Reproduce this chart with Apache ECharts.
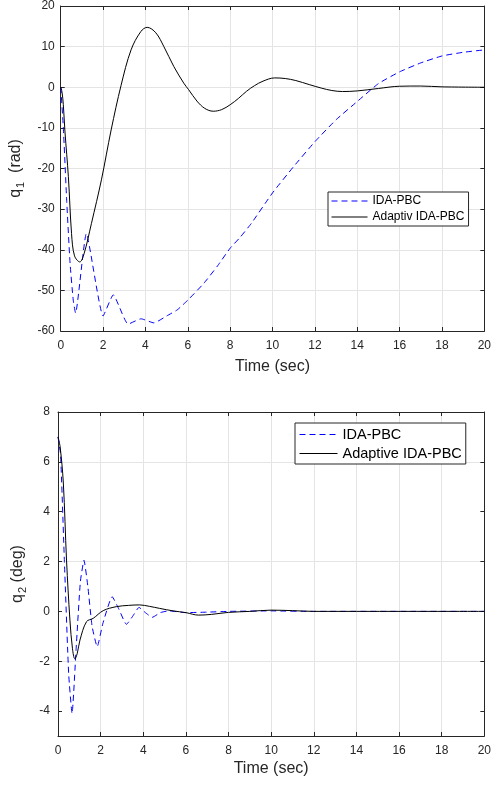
<!DOCTYPE html>
<html>
<head>
<meta charset="utf-8">
<script src="https://cdn.jsdelivr.net/npm/echarts@6/dist/echarts.min.js"></script>
<style>
  html, body { margin: 0; padding: 0; background: #fff; }
  #chart { width: 494px; height: 788px; }
</style>
</head>
<body>
<div id="chart"></div>
<script>
// q1 (rad), IDA-PBC
var q1TimeIda = [0, 0.12, 0.28, 0.44, 0.59, 0.7, 1.21, 2.0, 2.48, 3.18, 3.79, 4.4, 5.0, 5.5, 6.0, 6.75, 7.4, 8.0, 8.46, 9, 10, 11, 12, 13, 14, 15, 16, 17, 18, 19, 20];
var q1Ida = [0, -9.7, -27.8, -43.3, -52.4, -55.6, -36, -56.3, -51.1, -58.3, -57, -58, -56.3, -54.8, -52.4, -48.3, -44, -39.6, -37, -33.5, -26, -19.5, -13.4, -8, -3.5, 0.9, 3.8, 6.0, 7.7, 8.6, 9.2];
// q1 (rad), adaptive IDA-PBC
var q1TimeAdp = [0, 0.06, 0.12, 0.2, 0.36, 0.51, 0.65, 0.9, 1.1, 1.45, 1.92, 2.38, 2.85, 3.32, 3.78, 4.08, 4.49, 4.87, 5.34, 5.81, 6.04, 6.43, 6.8, 7.2, 7.6, 8.0, 8.4, 8.77, 9.15, 9.55, 10.1, 10.6, 11.1, 11.73, 12.3, 12.8, 13.3, 14.0, 15.0, 16.0, 17.0, 18.0, 20.0];
var q1Adp = [0, -1.2, -4.2, -11, -22, -36, -41.5, -43, -41, -33.5, -22.8, -10.5, 0.5, 9.2, 13.7, 14.75, 13.4, 10.0, 5.1, 1.0, -0.6, -3.4, -5.2, -5.9, -5.5, -4.3, -2.7, -1.0, 0.4, 1.5, 2.3, 2.15, 1.65, 0.66, -0.2, -0.8, -1.05, -0.9, -0.3, 0.25, 0.3, 0.1, 0];
// q2 (deg), IDA-PBC
var q2TimeIda = [0, 0.12, 0.3, 0.5, 0.66, 0.85, 1.05, 1.22, 1.4, 1.6, 1.84, 2.1, 2.54, 2.85, 3.21, 3.5, 3.8, 4.1, 4.42, 4.8, 5.2, 6, 7, 8, 10, 12, 20];
var q2Ida = [7, 6.3, 2, -2.5, -4.1, -1.5, 1.2, 2.05, 1.0, -0.6, -1.42, -0.5, 0.59, 0.1, -0.52, -0.2, 0.16, -0.05, -0.24, -0.05, 0.02, -0.05, -0.03, 0, 0.02, 0, 0];
// q2 (deg), adaptive IDA-PBC
var q2TimeAdp = [0, 0.1, 0.25, 0.4, 0.56, 0.68, 0.79, 0.9, 1.03, 1.34, 1.65, 2.12, 2.74, 3.3, 3.83, 4.3, 4.77, 5.4, 6.0, 6.6, 7.2, 8, 9, 10, 11, 12, 14, 20];
var q2Adp = [7, 6.6, 5.15, 2.06, -0.35, -1.5, -1.9, -1.7, -1.15, -0.41, -0.28, 0.03, 0.19, 0.24, 0.26, 0.2, 0.12, 0.02, -0.05, -0.15, -0.12, -0.04, 0, 0.05, 0.03, 0, 0, 0];

var q2Ticks = [-4, -2, 0, 2, 4, 6, 8];

function pairs(xs, ys) {
    return xs.map(function (x, i) { return [x, ys[i]]; });
}

var ink = '#262626';
var gridGray = '#e4e4e4';
var font = '"Liberation Sans", Arial, sans-serif';

function xAx(gridIndex, pos, gap) {
    var a = {
        type: 'value', gridIndex: gridIndex, position: pos, min: 0, max: 20, interval: 2,
        axisLine: { show: true, onZero: false, lineStyle: { color: ink, width: 1 } },
        axisTick: { show: true, inside: true, length: 4, lineStyle: { color: ink } },
        axisLabel: { show: pos === 'bottom', color: ink, fontSize: 12, fontFamily: font, margin: 9 },
        splitLine: { show: pos === 'bottom', lineStyle: { color: gridGray, width: 1 } }
    };
    if (pos === 'bottom') {
        a.name = 'Time (sec)';
        a.nameLocation = 'middle';
        a.nameGap = gap;
        a.nameTextStyle = { color: ink, fontSize: 16, fontFamily: font };
    }
    return a;
}

function qName(sub, unit) {
    return {
        name: '{q|q}{s|' + sub + '}{q|' + unit + '}', nameLocation: 'middle', nameRotate: 90,
        nameTextStyle: {
            color: ink, fontFamily: font,
            rich: {
                q: { fontSize: 16, color: ink, fontFamily: font },
                s: { fontSize: 11, color: ink, fontFamily: font, padding: [10, 0, 0, 1] }
            }
        }
    };
}

var yLeft0 = Object.assign({
    type: 'value', gridIndex: 0, position: 'left', min: -60, max: 20, interval: 10,
    axisLine: { show: true, onZero: false, lineStyle: { color: ink } },
    axisTick: { show: true, inside: true, length: 4, lineStyle: { color: ink } },
    axisLabel: { color: ink, fontSize: 12, fontFamily: font, margin: 6 },
    splitLine: { show: true, lineStyle: { color: gridGray } },
    nameGap: 22
}, qName('1', '  (rad)'));

var yLeft1 = Object.assign({
    type: 'value', gridIndex: 1, position: 'left', min: -5, max: 8, interval: 1,
    axisLine: { show: true, onZero: false, lineStyle: { color: ink } },
    axisTick: { show: true, inside: true, length: 4, lineStyle: { color: ink }, customValues: q2Ticks },
    axisLabel: { color: ink, fontSize: 12, fontFamily: font, margin: 8, customValues: q2Ticks },
    splitLine: { show: true, lineStyle: { color: ['rgba(0,0,0,0)', gridGray] } },
    nameGap: 28
}, qName('2', ' (deg)'));

var legendBase = {
    orient: 'vertical', backgroundColor: '#fff', borderColor: ink, borderWidth: 1, borderRadius: 0,
    itemStyle: { opacity: 0 }, lineStyle: { width: 1 }, selectedMode: false
};

var option = {
    animation: false,
    backgroundColor: '#fff',
    grid: [
        { left: 59, top: 6, width: 428, height: 325 },
        { left: 58, top: 412, width: 428, height: 324 }
    ],
    legend: [
        Object.assign({}, legendBase, {
            left: 328, top: 192,
            data: ['IDA-PBC', 'Adaptiv IDA-PBC'],
            itemWidth: 36, itemHeight: 12, itemGap: 4,
            padding: [3, 4, 3, 3],
            textStyle: { color: '#000', fontSize: 12, fontFamily: font }
        }),
        Object.assign({}, legendBase, {
            left: 295, top: 423,
            data: ['IDA-PBC', 'Adaptive IDA-PBC'],
            itemWidth: 38, itemHeight: 16, itemGap: 4,
            padding: [4, 4, 3, 4],
            textStyle: { color: '#000', fontSize: 14.5, fontFamily: font }
        })
    ],
    xAxis: [xAx(0, 'bottom', 28), xAx(0, 'top'), xAx(1, 'bottom', 25), xAx(1, 'top')],
    yAxis: [
        yLeft0,
        {
            type: 'value', gridIndex: 0, position: 'right', min: -60, max: 20, interval: 10,
            axisLine: { show: true, onZero: false, lineStyle: { color: ink } },
            axisTick: { show: true, inside: true, length: 4, lineStyle: { color: ink } },
            axisLabel: { show: false },
            splitLine: { show: false }
        },
        yLeft1,
        {
            type: 'value', gridIndex: 1, position: 'right', min: -5, max: 8, interval: 1,
            axisLine: { show: true, onZero: false, lineStyle: { color: ink } },
            axisTick: { show: true, inside: true, length: 4, lineStyle: { color: ink }, customValues: q2Ticks },
            axisLabel: { show: false },
            splitLine: { show: false }
        }
    ],
    series: [
        {
            name: 'IDA-PBC', type: 'line', xAxisIndex: 0, yAxisIndex: 0,
            data: pairs(q1TimeIda, q1Ida), symbol: 'none', smooth: 0.15,
            lineStyle: { color: '#0000ff', width: 1, type: [6, 4] }, itemStyle: { color: '#0000ff' }
        },
        {
            name: 'Adaptiv IDA-PBC', type: 'line', xAxisIndex: 0, yAxisIndex: 0,
            data: pairs(q1TimeAdp, q1Adp), symbol: 'none', smooth: 0.35,
            lineStyle: { color: '#000', width: 1 }, itemStyle: { color: '#000' }
        },
        {
            name: 'IDA-PBC', type: 'line', xAxisIndex: 2, yAxisIndex: 2,
            data: pairs(q2TimeIda, q2Ida), symbol: 'none', smooth: 0.15,
            lineStyle: { color: '#0000ff', width: 1, type: [6, 4] }, itemStyle: { color: '#0000ff' }
        },
        {
            name: 'Adaptive IDA-PBC', type: 'line', xAxisIndex: 2, yAxisIndex: 2,
            data: pairs(q2TimeAdp, q2Adp), symbol: 'none', smooth: 0.35,
            lineStyle: { color: '#000', width: 1 }, itemStyle: { color: '#000' }
        }
    ]
};

var myChart = echarts.init(document.getElementById('chart'), null, { renderer: 'canvas' });
myChart.setOption(option);
</script>
</body>
</html>
